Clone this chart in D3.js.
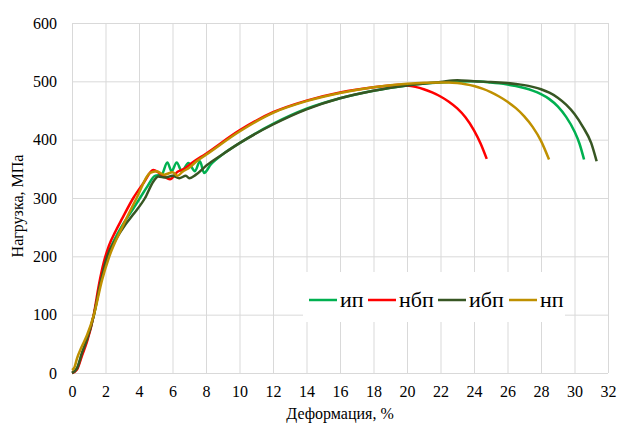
<!DOCTYPE html>
<html>
<head>
<meta charset="utf-8">
<script src="https://cdn.jsdelivr.net/npm/d3@7"></script>
<style>
  body { margin: 0; background: #fff; }
  svg text { font-family: 'Liberation Serif', 'Times New Roman', 'DejaVu Serif', serif; fill: #000; }
</style>
</head>
<body>
<svg width="618" height="423"></svg>
<script>
const xTicks = [0, 2, 4, 6, 8, 10, 12, 14, 16, 18, 20, 22, 24, 26, 28, 30, 32]
const yTicks = [0, 100, 200, 300, 400, 500, 600]

const seriesNames = ['ип', 'нбп', 'ибп', 'нп']
const seriesColors = ['#00b050', '#ff0000', '#375623', '#bf9000']

const ipStrain = [0, 0.3, 0.6, 0.9, 1.31, 1.7, 2.1, 2.6, 3.2, 3.66, 4.06, 4.5, 4.95, 5.35, 5.69, 5.95, 6.25, 6.55, 6.95, 7.34, 7.64, 7.88, 8.3, 9, 10, 12, 14, 16, 18, 20, 22, 24, 25, 25.5, 26, 26.5, 27, 27.5, 28, 28.5, 29, 29.5, 30, 30.3, 30.57]
const ipStress = [0, 8, 33, 57, 100, 155, 200, 232, 262, 282, 300, 320, 338, 340, 361, 346, 361, 346, 360, 346, 363, 343, 358, 375, 394, 427, 453, 471, 484, 493, 498, 500, 498, 496.5, 494.5, 492, 488.5, 484, 478, 469.5, 457, 439, 414, 393, 366]

const nbpStrain = [0, 0.3, 0.6, 0.9, 1.3, 1.6, 1.9, 2.2, 2.6, 3.0, 3.66, 4.3, 4.85, 5.35, 5.85, 6.3, 6.7, 7.15, 8, 10, 12, 14, 16, 18, 19, 19.5, 20, 20.5, 21, 21.5, 22, 22.5, 23, 23.5, 24, 24.4, 24.76]
const nbpStress = [0, 6, 30, 54, 100, 150, 190, 218, 243, 265, 300, 327, 348, 340, 332, 345, 350, 360, 376, 416, 447, 467, 481, 490, 493, 494, 493, 490.5, 486.5, 481, 474, 465, 453.5, 438, 416, 393, 367]

const ibpStrain = [0, 0.3, 0.6, 0.9, 1.31, 1.7, 2.1, 2.6, 3.2, 3.66, 4.36, 4.85, 5.15, 5.6, 6.0, 6.4, 6.8, 7.0, 7.4, 8.04, 9, 10, 12, 14, 16, 18, 20, 22, 23, 24, 25, 26, 26.5, 27, 27.5, 28, 28.5, 29, 29.5, 30, 30.5, 31, 31.32]
const ibpStress = [0, 8, 35, 58, 100, 155, 200, 228, 255, 272, 300, 328, 337, 335, 338, 334, 338, 334, 340, 356, 375, 394, 426, 452, 471, 484, 493, 499, 502, 500, 499, 497, 495.5, 493.5, 490.5, 486.5, 480.5, 472, 460, 444, 422, 394, 363]

const npStrain = [0, 0.15, 0.3, 0.58, 0.9, 1.31, 1.8, 2.23, 3.0, 3.86, 4.66, 5.05, 5.5, 6.0, 6.3, 6.6, 7.0, 7.44, 8, 10, 12, 14, 16, 18, 20, 22, 22.5, 23, 23.5, 24, 24.5, 25, 25.5, 26, 26.5, 27, 27.5, 28, 28.48]
const npStress = [5, 10, 25, 45, 65, 100, 160, 200, 250, 300, 343, 346, 340, 344, 338, 345, 352, 363, 374, 414, 446, 466, 480, 490, 496, 498, 498, 497, 495, 492, 487.5, 481.5, 474, 465, 454, 440, 422, 398, 366]

const svg = d3.select('svg')
const width = +svg.attr('width')
const height = +svg.attr('height')
const margin = { top: 23, right: 10, bottom: 50, left: 72 }
const innerWidth = width - margin.left - margin.right
const innerHeight = height - margin.top - margin.bottom

const zip = (xs, ys) => xs.map((x, i) => ({ x, y: ys[i] }))
const series = [
  zip(ipStrain, ipStress),
  zip(nbpStrain, nbpStress),
  zip(ibpStrain, ibpStress),
  zip(npStrain, npStress)
]

const xScale = d3.scaleLinear().domain([0, 32]).range([0, innerWidth])
const yScale = d3.scaleLinear().domain([0, 600]).range([innerHeight, 0])

const g = svg.append('g')
  .attr('transform', `translate(${margin.left}, ${margin.top})`)

// grid + tick labels
const xAxisGroup = g.append('g')
  .attr('transform', `translate(0, ${innerHeight})`)
  .call(d3.axisBottom(xScale).tickValues(xTicks).tickSize(-innerHeight).tickPadding(13))
const yAxisGroup = g.append('g')
  .call(d3.axisLeft(yScale).tickValues(yTicks).tickSize(-innerWidth).tickPadding(15))

;[xAxisGroup, yAxisGroup].forEach(ax => {
  ax.attr('font-family', null).attr('font-size', null)
  ax.select('.domain').remove()
  ax.selectAll('.tick line').attr('stroke', '#d9d9d9').attr('stroke-width', 1)
  ax.selectAll('.tick text')
    .attr('font-size', 16)
    .attr('fill', '#000')
})

// legend box (drawn before lines so lines stay on top)
const legend = g.append('g')
legend.append('rect')
  .attr('x', 303 - margin.left).attr('y', 272 - margin.top)
  .attr('width', 262).attr('height', 50)
  .attr('fill', '#fff')

const line = d3.line()
  .x(d => xScale(d.x))
  .y(d => yScale(d.y))
  .curve(d3.curveMonotoneX)

g.selectAll('path.curve').data(series)
  .enter().append('path')
  .attr('class', 'curve')
  .attr('fill', 'none')
  .attr('stroke', (d, i) => seriesColors[i])
  .attr('stroke-width', 2.5)
  .attr('stroke-linejoin', 'round')
  .attr('d', line)

const legendX = [309, 368, 438, 509]
const legendItems = legend.selectAll('g.item').data(seriesNames)
  .enter().append('g')
  .attr('class', 'item')
  .attr('transform', (d, i) => `translate(${legendX[i] - margin.left}, ${300 - margin.top})`)
legendItems.append('line')
  .attr('x1', 0).attr('x2', 28)
  .attr('stroke', (d, i) => seriesColors[i])
  .attr('stroke-width', 2.5)
legendItems.append('text')
  .attr('x', 31)
  .attr('y', 7)
  .attr('font-size', 22)
  .text(d => d)

// axis titles
svg.append('text')
  .attr('x', margin.left + innerWidth / 2)
  .attr('y', 419)
  .attr('text-anchor', 'middle')
  .attr('font-size', 16)
  .text('Деформация, %')

svg.append('text')
  .attr('transform', `translate(23, ${margin.top + innerHeight / 2 + 8}) rotate(-90)`)
  .attr('text-anchor', 'middle')
  .attr('font-size', 16)
  .text('Нагрузка, МПа')
</script>
</body>
</html>
